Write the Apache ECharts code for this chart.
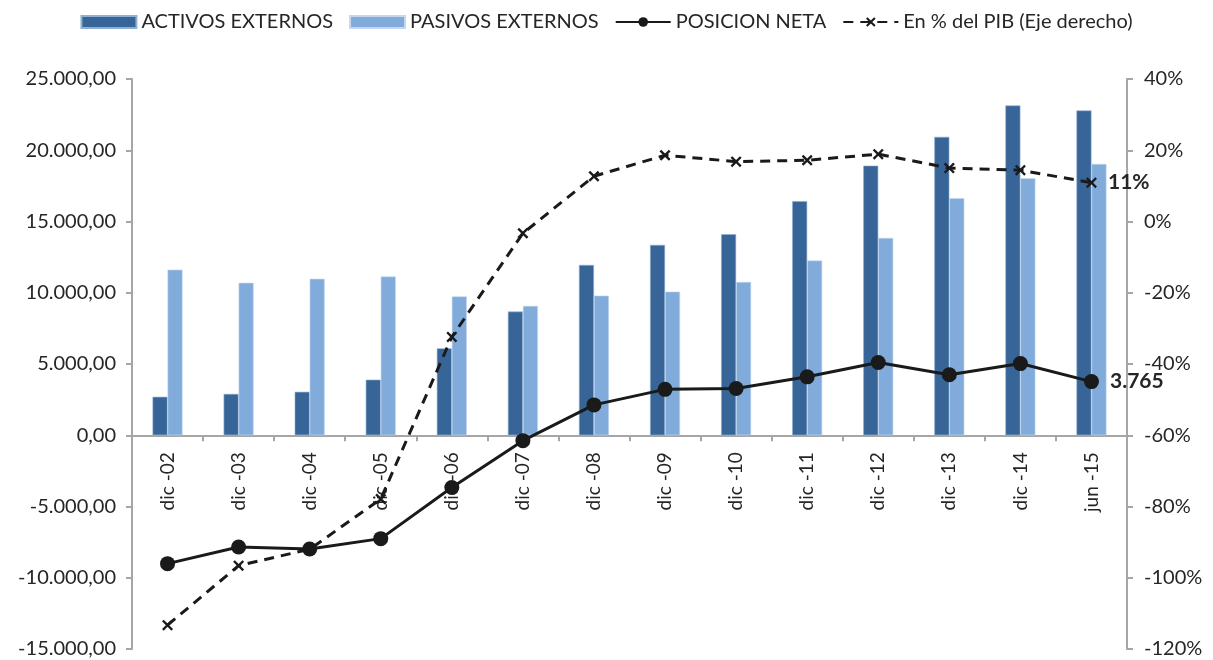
<!DOCTYPE html>
<html>
<head>
<meta charset="utf-8">
<script src="https://cdn.jsdelivr.net/npm/echarts@6/dist/echarts.min.js"></script>
<style>
  html, body { margin: 0; padding: 0; background: #fff; }
  #chart { width: 1213px; height: 660px; }
</style>
</head>
<body>
<div id="chart"></div>
<script>
const categories = ['dic -02', 'dic -03', 'dic -04', 'dic -05', 'dic -06', 'dic -07', 'dic -08',
  'dic -09', 'dic -10', 'dic -11', 'dic -12', 'dic -13', 'dic -14', 'jun -15']
const activos = [2700, 2900, 3050, 3900, 6100, 8680, 11950, 13360, 14110, 16430, 18920, 20940, 23140, 22790]
const pasivos = [11620, 10700, 10980, 11140, 9740, 9080, 9800, 10080, 10760, 12260, 13850, 16640, 18040, 19040]
const neta = [-9010, -7840, -7985, -7255, -3670, -380, 2130, 3220, 3280, 4100, 5110, 4250, 5030, 3765]
const pctPib = [-113.3, -96.6, -92, -77.9, -32.4, -3.3, 12.7, 18.6, 16.8, 17.2, 18.9, 15.0, 14.4, 10.9]
const leftTicks = { min: -15000, max: 25000, interval: 5000 }
const rightTicks = { min: -120, max: 40, interval: 20 }

const FONT = 'Lato'
const AXIS_GREY = '#a6a6a6'
const GRID = { left: 132, right: 86, top: 79, bottom: 11 }

// 25000 -> "25.000,00"
const fmtEs = v => {
  const s = Math.abs(v).toFixed(2).split('.')
  const int = s[0].replace(/\B(?=(\d{3})+(?!\d))/g, '.')
  return (v < 0 ? '-' : '') + int + ',' + s[1]
}

// only the last point carries a label
const lastLabel = (arr, text) => arr.map((v, i) => i < arr.length - 1 ? v : {
  value: v,
  label: {
    show: true, position: 'right', distance: 11, formatter: text,
    fontFamily: FONT, fontSize: 21, fontWeight: 'bold', color: '#262626'
  }
})

const crossPath = 'path://M0,1.5L1.5,0L5,3.5L8.5,0L10,1.5L6.5,5L10,8.5L8.5,10L5,6.5L1.5,10L0,8.5L3.5,5Z'

// category labels sit just under the zero line, not at the bottom of the grid
const plotH = 660 - GRID.top - GRID.bottom
const zeroFromBottom = plotH * (0 - leftTicks.min) / (leftTicks.max - leftTicks.min)

const chart = echarts.init(document.getElementById('chart'))
chart.setOption({
  animation: false,
  textStyle: { fontFamily: FONT },
  legend: {
    top: 7,
    left: 'center',
    itemWidth: 55,
    itemHeight: 12,
    itemGap: 16,
    textStyle: { fontFamily: FONT, fontSize: 20, color: '#262626' },
    data: [
      { name: 'ACTIVOS EXTERNOS', icon: 'rect' },
      { name: 'PASIVOS EXTERNOS', icon: 'rect' },
      'POSICION NETA',
      'En % del PIB (Eje derecho)'
    ]
  },
  grid: Object.assign({ containLabel: false, outerBoundsMode: 'none' }, GRID),
  xAxis: {
    type: 'category',
    data: categories,
    axisLine: { onZero: true, lineStyle: { color: AXIS_GREY, width: 2 } },
    axisTick: { show: true, length: 6, lineStyle: { color: AXIS_GREY, width: 2 } },
    axisLabel: { rotate: 90, margin: 17 - zeroFromBottom, fontFamily: FONT, fontSize: 19, color: '#262626' }
  },
  yAxis: [
    {
      type: 'value',
      min: leftTicks.min, max: leftTicks.max, interval: leftTicks.interval,
      splitLine: { show: false },
      axisLine: { show: true, lineStyle: { color: AXIS_GREY, width: 2 } },
      axisTick: { show: true, length: 6, lineStyle: { color: AXIS_GREY, width: 2 } },
      axisLabel: { formatter: fmtEs, margin: 16, fontFamily: FONT, fontSize: 20, color: '#262626' }
    },
    {
      type: 'value',
      min: rightTicks.min, max: rightTicks.max, interval: rightTicks.interval,
      splitLine: { show: false },
      axisLine: { show: true, lineStyle: { color: AXIS_GREY, width: 2 } },
      axisTick: { show: true, length: 6, lineStyle: { color: AXIS_GREY, width: 2 } },
      axisLabel: { formatter: '{value}%', margin: 17, fontFamily: FONT, fontSize: 20, color: '#262626' }
    }
  ],
  series: [
    {
      name: 'ACTIVOS EXTERNOS',
      type: 'bar',
      barWidth: 15,
      barGap: '0%',
      data: activos,
      itemStyle: { color: '#376597', borderColor: '#8fb0d4', borderWidth: 0.6 }
    },
    {
      name: 'PASIVOS EXTERNOS',
      type: 'bar',
      barWidth: 15,
      barGap: '0%',
      data: pasivos,
      itemStyle: { color: '#80abdb', borderColor: '#c5d8ee', borderWidth: 0.6 }
    },
    {
      name: 'POSICION NETA',
      type: 'line',
      data: lastLabel(neta, p => fmtEs(p.value).replace(',00', '')),
      symbol: 'circle',
      symbolSize: 15,
      lineStyle: { color: '#1a1a1a', width: 3 },
      itemStyle: { color: '#1a1a1a' },
      z: 5
    },
    {
      name: 'En % del PIB (Eje derecho)',
      type: 'line',
      yAxisIndex: 1,
      data: lastLabel(pctPib, p => Math.round(p.value) + '%'),
      symbol: crossPath,
      symbolSize: 11,
      lineStyle: { color: '#1a1a1a', width: 3, type: [10, 7] },
      itemStyle: { color: '#1a1a1a' },
      z: 6
    }
  ]
})
</script>
</body>
</html>
